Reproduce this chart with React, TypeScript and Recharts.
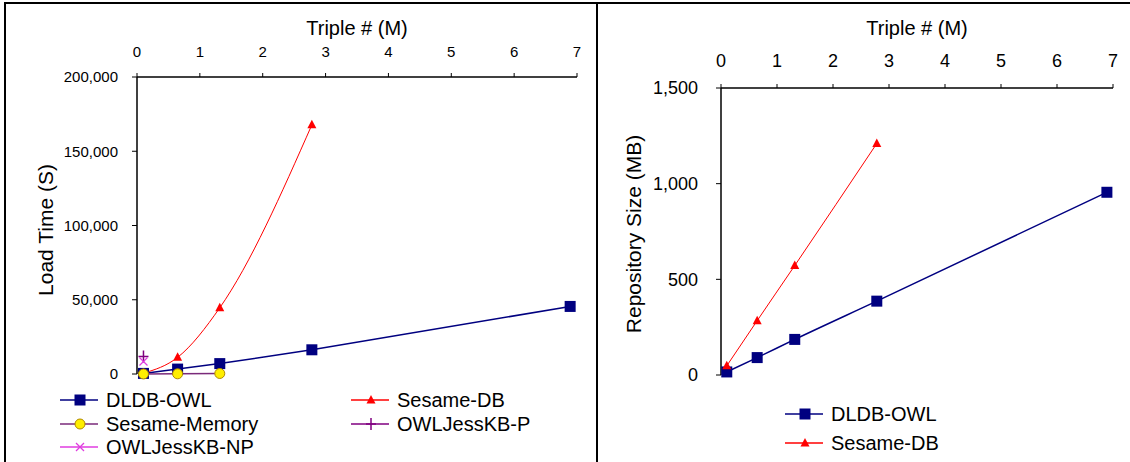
import { LineChart, Line, XAxis, YAxis, Legend } from "recharts";

const FONT = "Arial, 'Liberation Sans', Helvetica, sans-serif";

// LUBM data sizes (million triples)
const triples = [0.103, 0.646, 1.317, 2.782, 6.891];
const xTicks = [0, 1, 2, 3, 4, 5, 6, 7];

// load time (seconds)
const dldbLoad = [400, 3300, 7000, 16300, 45500];
const sesameDbLoad = [550, 11200, 44600, 167800];
const sesameMemLoad = [15, 120, 340];
const jessPLoad = [11800];
const jessNPLoad = [8400];
const loadTicks = [0, 50000, 100000, 150000, 200000];

// repository size (MB)
const dldbSize = [16, 91, 186, 386, 955];
const sesameDbSize = [48, 284, 572, 1210];
const sizeTicks = [0, 500, 1000, 1500];

const NAVY = "#000080";
const RED = "#ff0000";
const MEM = "#7a2a7a";
const PURPLE = "#800080";
const MAGENTA = "#e03ce0";

const toRows = (ys: number[]) => ys.map((y, i) => ({ x: triples[i], y }));

type Kind = "square" | "triangle" | "circle" | "plus" | "cross";

function Marker({ kind, cx, cy }: { kind: Kind; cx: number; cy: number }) {
  if (cx == null || cy == null) return null;
  if (kind === "square") return <rect x={cx - 5.5} y={cy - 5.5} width={11} height={11} fill={NAVY} />;
  if (kind === "triangle")
    return <polygon points={`${cx},${cy - 5} ${cx - 4.5},${cy + 3.5} ${cx + 4.5},${cy + 3.5}`} fill={RED} />;
  if (kind === "circle") return <circle cx={cx} cy={cy} r={5} fill="#ffee00" stroke="#b08a00" strokeWidth={1} />;
  if (kind === "plus")
    return (
      <g stroke={PURPLE} strokeWidth={1.5}>
        <line x1={cx - 5} y1={cy} x2={cx + 5} y2={cy} />
        <line x1={cx} y1={cy - 6} x2={cx} y2={cy + 6} />
      </g>
    );
  return (
    <g stroke={MAGENTA} strokeWidth={1.2}>
      <line x1={cx - 4} y1={cy - 4} x2={cx + 4} y2={cy + 4} />
      <line x1={cx - 4} y1={cy + 4} x2={cx + 4} y2={cy - 4} />
    </g>
  );
}

const dotOf = (kind: Kind) => (p: any) => <Marker key={`${kind}-${p.index}`} kind={kind} cx={p.cx} cy={p.cy} />;

type Item = { name: string; color: string; kind: Kind; x: number; y: number };

// legend rows, drawn over the chart in chart coordinates
function LegendLayer({ items, w, h }: { items: Item[]; w: number; h: number }) {
  return (
    <svg width={w} height={h} style={{ position: "absolute", left: 0, top: 0 }}>
      {items.map((it) => (
        <g key={it.name}>
          <line x1={it.x} y1={it.y} x2={it.x + 38} y2={it.y} stroke={it.color} strokeWidth={1.5} />
          <Marker kind={it.kind} cx={it.x + 20} cy={it.y} />
          <text x={it.x + 46} y={it.y} dominantBaseline="central" fontSize={20} fontFamily={FONT} fill="#000">
            {it.name}
          </text>
        </g>
      ))}
    </svg>
  );
}

const leftLegend: Item[] = [
  { name: "DLDB-OWL", color: NAVY, kind: "square", x: 60, y: 400 },
  { name: "Sesame-DB", color: RED, kind: "triangle", x: 351, y: 400 },
  { name: "Sesame-Memory", color: MEM, kind: "circle", x: 60, y: 424 },
  { name: "OWLJessKB-P", color: PURPLE, kind: "plus", x: 351, y: 424 },
  { name: "OWLJessKB-NP", color: MAGENTA, kind: "cross", x: 60, y: 447 },
];

const rightLegend: Item[] = [
  { name: "DLDB-OWL", color: NAVY, kind: "square", x: 188, y: 414 },
  { name: "Sesame-DB", color: RED, kind: "triangle", x: 188, y: 443 },
];

const fmt = (v: number) => v.toLocaleString("en-US");

const xTitle = (y: number) => (p: any) => {
  const vb = p.viewBox || {};
  return (
    <text x={vb.x + vb.width / 2} y={y} textAnchor="middle" fontSize={20} fontFamily={FONT} fill="#000">
      Triple # (M)
    </text>
  );
};

const yTitle = (text: string, x: number, y: number) => () => (
  <text
    x={x}
    y={y}
    textAnchor="middle"
    dominantBaseline="central"
    transform={`rotate(-90, ${x}, ${y})`}
    fontSize={21}
    fontFamily={FONT}
    fill="#000"
  >
    {text}
  </text>
);

const axisLine = { stroke: "#000", strokeWidth: 1.5 };

function LoadTimeChart() {
  const W = 597;
  const H = 462;
  return (
    <div style={{ position: "absolute", left: 0, top: 0, width: W, height: H }}>
      <LineChart width={W} height={H} margin={{ top: 0, right: 20, bottom: 88, left: 0 }}>
        <XAxis
          orientation="top"
          type="number"
          dataKey="x"
          domain={[0, 7]}
          ticks={xTicks}
          height={77}
          tickSize={4}
          tickMargin={16}
          stroke="#000"
          axisLine={axisLine}
          tick={{ fill: "#000", fontSize: 15, fontFamily: FONT }}
          label={{ content: xTitle(35) }}
        />
        <YAxis
          type="number"
          domain={[0, 200000]}
          ticks={loadTicks}
          tickFormatter={fmt}
          width={137}
          tickSize={5}
          tickMargin={14}
          stroke="#000"
          axisLine={axisLine}
          tick={{ fill: "#000", fontSize: 15, fontFamily: FONT }}
          label={{ content: yTitle("Load Time (S)", 45, 230) }}
        />
        <Line data={toRows(dldbLoad)} dataKey="y" name="DLDB-OWL" stroke={NAVY} strokeWidth={1.5} dot={dotOf("square")} isAnimationActive={false} />
        <Line data={toRows(sesameDbLoad)} dataKey="y" name="Sesame-DB" type="monotone" stroke={RED} strokeWidth={1} dot={dotOf("triangle")} isAnimationActive={false} />
        <Line data={toRows(sesameMemLoad)} dataKey="y" name="Sesame-Memory" stroke={MEM} strokeWidth={1.5} dot={dotOf("circle")} isAnimationActive={false} />
        <Line data={toRows(jessPLoad)} dataKey="y" name="OWLJessKB-P" stroke={PURPLE} dot={dotOf("plus")} isAnimationActive={false} />
        <Line data={toRows(jessNPLoad)} dataKey="y" name="OWLJessKB-NP" stroke={MAGENTA} dot={dotOf("cross")} isAnimationActive={false} />
        <Legend
          layout="horizontal"
          verticalAlign="middle"
          align="center"
          wrapperStyle={{ left: 0, top: 0, width: W, height: H, pointerEvents: "none" }}
          content={() => <LegendLayer items={leftLegend} w={W} h={H} />}
        />
      </LineChart>
    </div>
  );
}

function RepoSizeChart() {
  const W = 533;
  const H = 462;
  return (
    <div style={{ position: "absolute", left: 597, top: 0, width: W, height: H }}>
      <LineChart width={W} height={H} margin={{ top: 0, right: 17, bottom: 87, left: 0 }}>
        <XAxis
          orientation="top"
          type="number"
          dataKey="x"
          domain={[0, 7]}
          ticks={xTicks}
          height={88}
          tickSize={4}
          tickMargin={17}
          stroke="#000"
          axisLine={axisLine}
          tick={{ fill: "#000", fontSize: 18, fontFamily: FONT }}
          label={{ content: xTitle(35) }}
        />
        <YAxis
          type="number"
          domain={[0, 1500]}
          ticks={sizeTicks}
          tickFormatter={fmt}
          width={124}
          tickSize={5}
          tickMargin={18}
          stroke="#000"
          axisLine={axisLine}
          tick={{ fill: "#000", fontSize: 18, fontFamily: FONT }}
          label={{ content: yTitle("Repository Size (MB)", 36, 234) }}
        />
        <Line data={toRows(dldbSize)} dataKey="y" name="DLDB-OWL" type="monotone" stroke={NAVY} strokeWidth={1.5} dot={dotOf("square")} isAnimationActive={false} />
        <Line data={toRows(sesameDbSize)} dataKey="y" name="Sesame-DB" type="monotone" stroke={RED} strokeWidth={1} dot={dotOf("triangle")} isAnimationActive={false} />
        <Legend
          layout="horizontal"
          verticalAlign="middle"
          align="center"
          wrapperStyle={{ left: 0, top: 0, width: W, height: H, pointerEvents: "none" }}
          content={() => <LegendLayer items={rightLegend} w={W} h={H} />}
        />
      </LineChart>
    </div>
  );
}

export default function App() {
  return (
    <div style={{ position: "absolute", left: 0, top: 0, width: 1130, height: 462, background: "#fff", overflow: "hidden" }}>
      {/* frame: top rule, left rule and the panel divider */}
      <div style={{ position: "absolute", left: 4, top: 2, width: 1126, height: 2, background: "#000" }} />
      <div style={{ position: "absolute", left: 4, top: 2, width: 2, height: 460, background: "#000" }} />
      <div style={{ position: "absolute", left: 596, top: 2, width: 2, height: 460, background: "#000" }} />
      <LoadTimeChart />
      <RepoSizeChart />
    </div>
  );
}
